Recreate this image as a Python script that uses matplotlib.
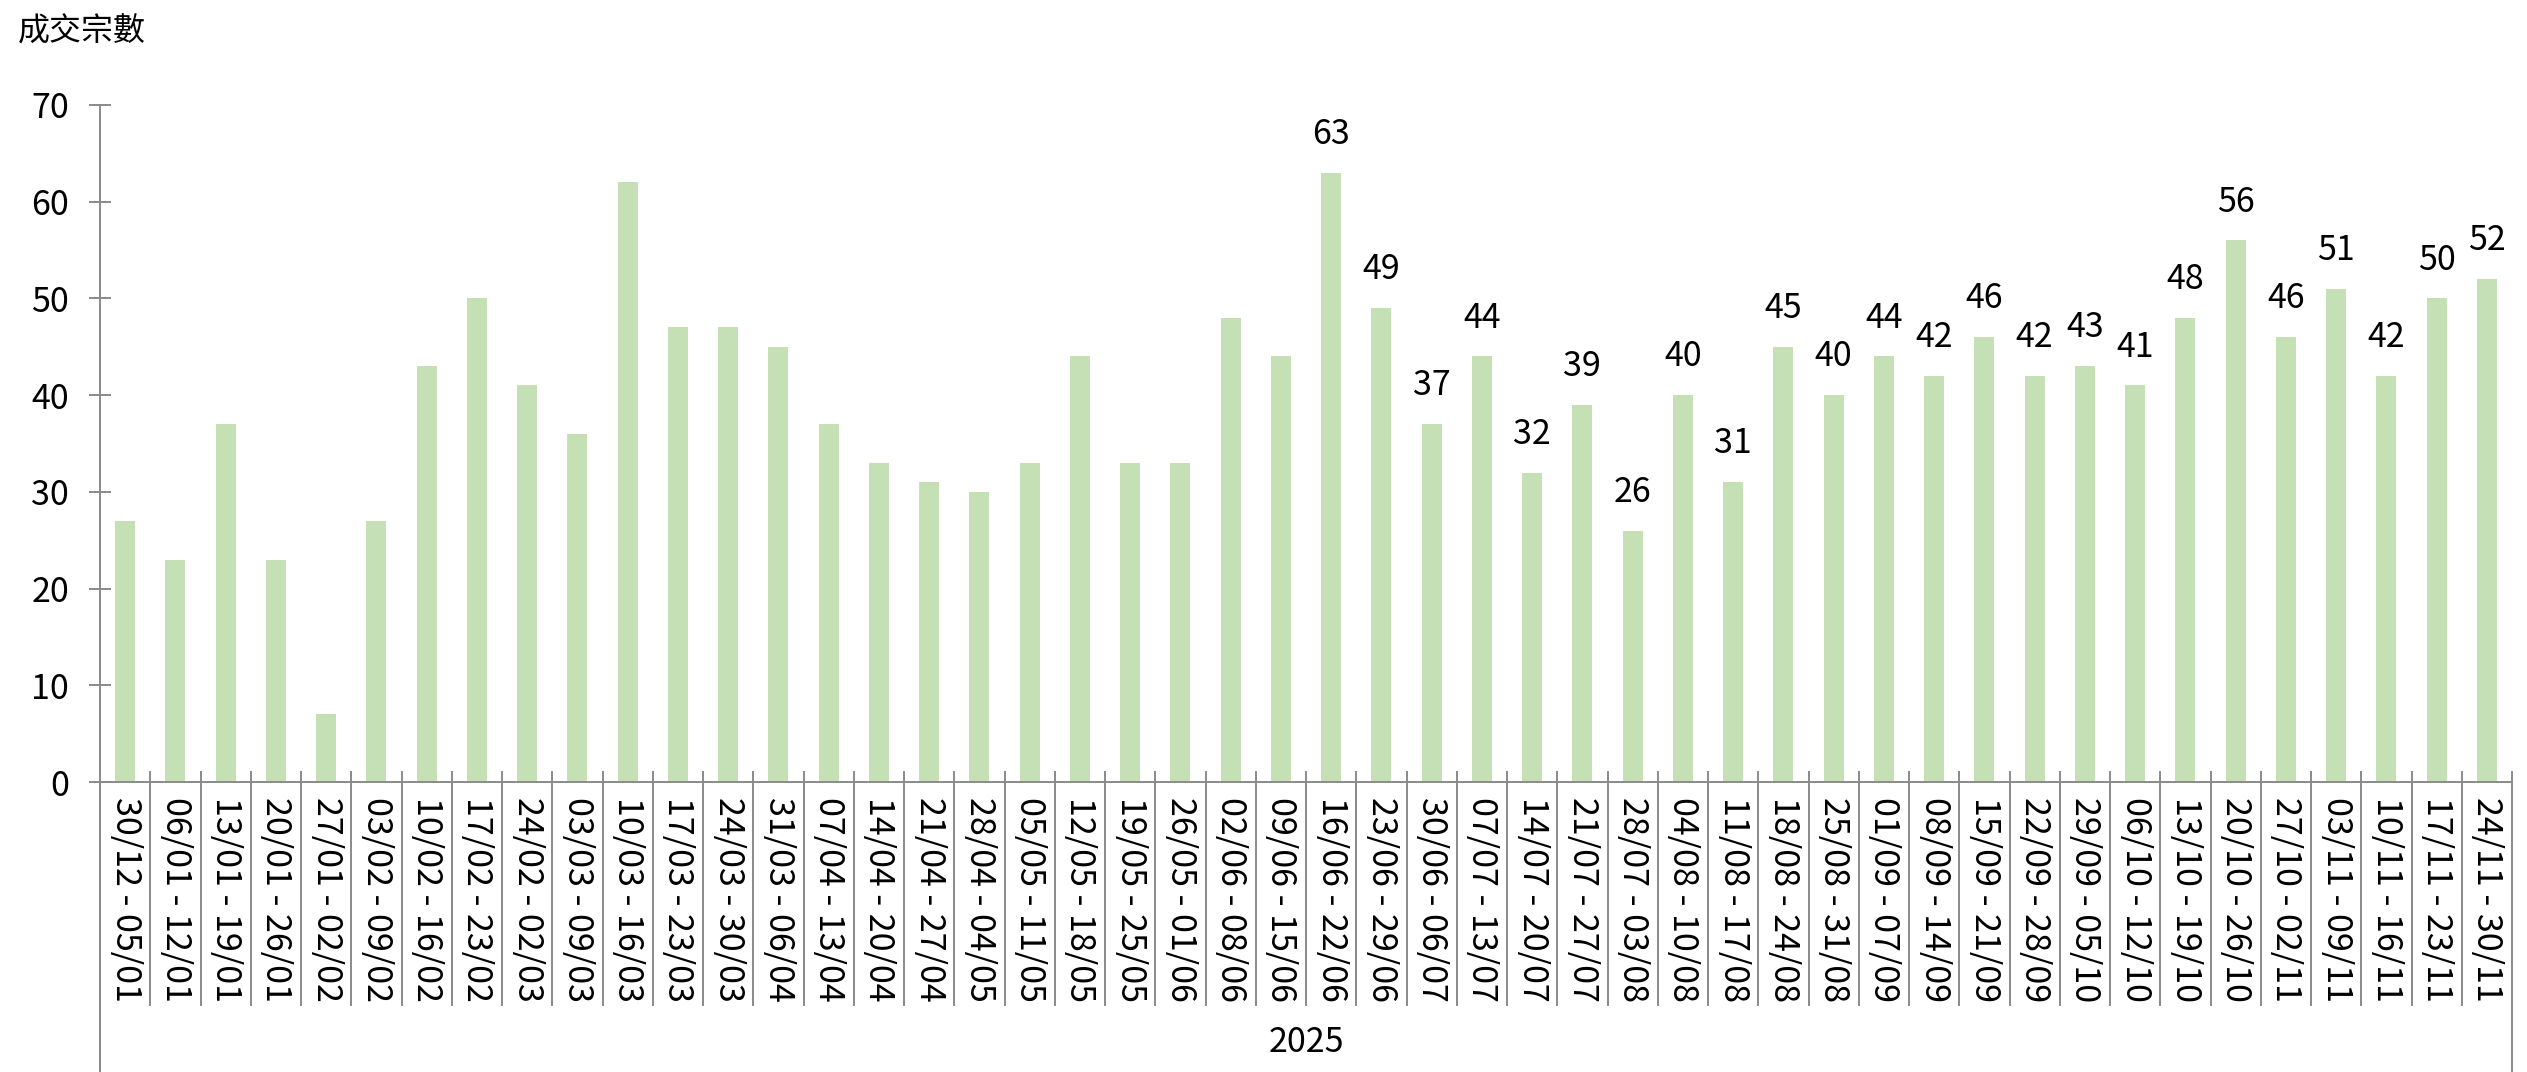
import matplotlib
matplotlib.use("Agg")
import matplotlib.pyplot as plt
import matplotlib.transforms as mtransforms

plt.rcParams['font.family'] = ['Noto Sans CJK TC', 'DejaVu Sans']

categories = ["30/12 - 05/01", "06/01 - 12/01", "13/01 - 19/01", "20/01 - 26/01",
              "27/01 - 02/02", "03/02 - 09/02", "10/02 - 16/02", "17/02 - 23/02",
              "24/02 - 02/03", "03/03 - 09/03", "10/03 - 16/03", "17/03 - 23/03",
              "24/03 - 30/03", "31/03 - 06/04", "07/04 - 13/04", "14/04 - 20/04",
              "21/04 - 27/04", "28/04 - 04/05", "05/05 - 11/05", "12/05 - 18/05",
              "19/05 - 25/05", "26/05 - 01/06", "02/06 - 08/06", "09/06 - 15/06",
              "16/06 - 22/06", "23/06 - 29/06", "30/06 - 06/07", "07/07 - 13/07",
              "14/07 - 20/07", "21/07 - 27/07", "28/07 - 03/08", "04/08 - 10/08",
              "11/08 - 17/08", "18/08 - 24/08", "25/08 - 31/08", "01/09 - 07/09",
              "08/09 - 14/09", "15/09 - 21/09", "22/09 - 28/09", "29/09 - 05/10",
              "06/10 - 12/10", "13/10 - 19/10", "20/10 - 26/10", "27/10 - 02/11",
              "03/11 - 09/11", "10/11 - 16/11", "17/11 - 23/11", "24/11 - 30/11"]
values = [27, 23, 37, 23, 7, 27, 43, 50, 41, 36, 62, 47, 47, 45, 37, 33, 31, 30,
          33, 44, 33, 33, 48, 44, 63, 49, 37, 44, 32, 39, 26, 40, 31, 45, 40, 44,
          42, 46, 42, 43, 41, 48, 56, 46, 51, 42, 50, 52]
first_labelled = "16/06 - 22/06"
group_label = "2025"
y_title = "成交宗數"
y_ticks = [0, 10, 20, 30, 40, 50, 60, 70]

W, H = 2527, 1072
fig = plt.figure(figsize=(W / 100, H / 100), dpi=100)
x0, x1, ytop, ybot = 100, 2512, 105, 782
ax = fig.add_axes([x0 / W, (H - ybot) / H, (x1 - x0) / W, (ybot - ytop) / H])

grey = '#8a8a8a'
fs = 24.5
n = len(categories)
xs = list(range(n))
ax.bar(xs, values, width=0.40, color='#C5E0B4', zorder=2)

ax.set_xlim(-0.5, n - 0.5)
ax.set_ylim(0, 70)
ax.set_yticks(y_ticks)
ax.set_yticklabels([str(t) for t in y_ticks], fontsize=fs)
ax.tick_params(axis='y', direction='inout', length=16.5, width=1.4, color=grey, pad=14)

ax.set_xticks(xs)
ax.set_xticklabels(categories, rotation=270, fontsize=fs, va='top', ha='center')
ax.tick_params(axis='x', length=0, pad=11)

for s in ['top', 'right']:
    ax.spines[s].set_visible(False)
for s in ['left', 'bottom']:
    ax.spines[s].set_color(grey)
    ax.spines[s].set_linewidth(1.4)

axh = ybot - ytop
trans = mtransforms.blended_transform_factory(ax.transData, ax.transAxes)
top_t = 10 / axh
sep_bot = -(1005 - ybot) / axh
outer_bot = -(H - ybot) / axh
for k in range(1, n):
    ax.plot([k - 0.5, k - 0.5], [top_t, sep_bot], color=grey, lw=1.4,
            transform=trans, clip_on=False, zorder=1)
ax.plot([n - 0.5, n - 0.5], [top_t, outer_bot], color=grey, lw=1.4,
        transform=trans, clip_on=False)
ax.plot([-0.5, -0.5], [0, outer_bot], color=grey, lw=1.4,
        transform=trans, clip_on=False)

ax.text(0.5, -(1042 - ybot) / axh, group_label, transform=ax.transAxes,
        ha='center', va='center', fontsize=fs)

start = categories.index(first_labelled)
for i in range(start, n):
    ax.annotate(str(values[i]), (xs[i], values[i]), xytext=(0, 27.5),
                textcoords='offset points', ha='center', va='center', fontsize=fs)

fig.text(18 / W, 1 - 32 / H, y_title, ha='left', va='center', fontsize=23)

fig.savefig('out.png', dpi=100)
